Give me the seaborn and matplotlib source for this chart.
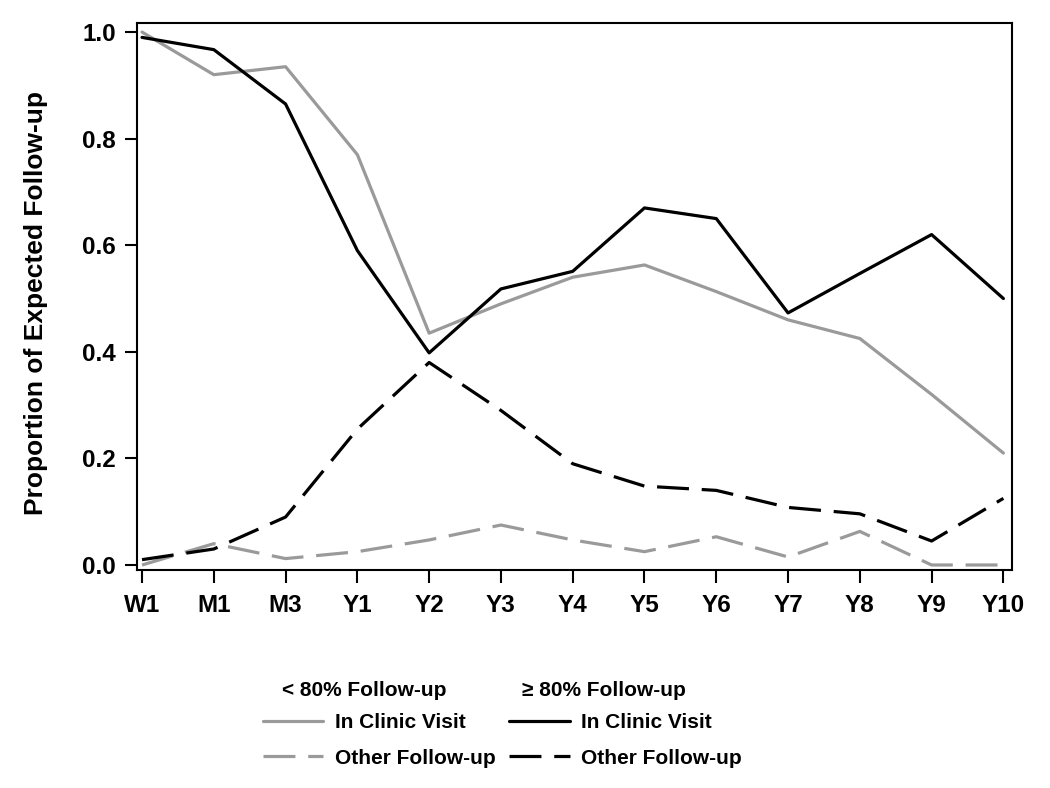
import numpy as np
import pandas as pd
import matplotlib
matplotlib.use("Agg")
import matplotlib.pyplot as plt
import seaborn as sns
from matplotlib.lines import Line2D

timepoints = ["W1", "M1", "M3", "Y1", "Y2", "Y3", "Y4", "Y5", "Y6", "Y7", "Y8", "Y9", "Y10"]
yticks = [0.0, 0.2, 0.4, 0.6, 0.8, 1.0]

low_clinic = [1.00, 0.92, 0.935, 0.77, 0.435, 0.49, 0.54, 0.563, 0.513, 0.46, 0.425, 0.32, 0.21]
low_other = [0.00, 0.04, 0.012, 0.025, 0.047, 0.075, 0.047, 0.025, 0.053, 0.015, 0.063, 0.0, 0.0]
high_clinic = [0.99, 0.967, 0.865, 0.59, 0.398, 0.518, 0.551, 0.67, 0.65, 0.473, 0.547, 0.62, 0.50]
high_other = [0.01, 0.03, 0.09, 0.255, 0.38, 0.29, 0.19, 0.148, 0.14, 0.108, 0.096, 0.045, 0.125]

groups = ["< 80% Follow-up", "\u2265 80% Follow-up"]
types = ["In Clinic Visit", "Other Follow-up"]

rows = []
for g, t, vals in [(groups[0], types[0], low_clinic), (groups[0], types[1], low_other),
                   (groups[1], types[0], high_clinic), (groups[1], types[1], high_other)]:
    for i, v in enumerate(vals):
        rows.append({"idx": i, "value": v, "group": g, "type": t})
df = pd.DataFrame(rows)

sns.set_theme(style="white")
plt.rcParams['font.family'] = ['Liberation Sans', 'DejaVu Sans']
plt.rcParams['font.weight'] = 'bold'
plt.rcParams['text.color'] = 'black'
plt.rcParams['axes.labelcolor'] = 'black'
plt.rcParams['xtick.color'] = 'black'
plt.rcParams['ytick.color'] = 'black'

GRAY = "#9a9a9a"
BLACK = "#000000"
DASH = (10, 4)
palette = {groups[0]: GRAY, groups[1]: BLACK}
dashes = {types[0]: "", types[1]: DASH}

fig = plt.figure(figsize=(10.5, 7.88), dpi=100)
ax = fig.add_axes([137/1050, 1 - 570/788, (1012-137)/1050, (570-23)/788])

sns.lineplot(data=df, x="idx", y="value", hue="group", style="type",
             palette=palette, dashes=dashes, linewidth=2.3, ax=ax, legend=False,
             hue_order=groups, style_order=types)

ax.set_xlim(-0.07, 12.12)
ax.set_ylim(-0.0094, 1.017)
ax.set_xticks(range(len(timepoints)))
ax.set_xticklabels(timepoints, fontsize=17.5, fontweight='bold', color='black')
ax.set_yticks(yticks)
ax.set_yticklabels([f"{t:.1f}" for t in yticks], fontsize=17.5, fontweight='bold', color='black')
ax.tick_params(axis='both', direction='out', length=9, width=1.5, color='black',
               bottom=True, left=True, pad=6)
ax.tick_params(axis='x', pad=8)
for s in ax.spines.values():
    s.set_color('black')
    s.set_linewidth(1.5)
ax.set_xlabel("")
ax.set_ylabel("Proportion of Expected Follow-up", fontsize=19, fontweight='bold', color='black')
ax.yaxis.set_label_coords((48 - 137) / 875, (570 - 303) / 547)

# Legend
handles = [
    Line2D([], [], color=GRAY, lw=2.3),
    Line2D([], [], color=GRAY, lw=2.3, dashes=DASH),
    Line2D([], [], color=BLACK, lw=2.3),
    Line2D([], [], color=BLACK, lw=2.3, dashes=DASH),
]
labels = [types[0], types[1], types[0], types[1]]
leg = fig.legend(handles, labels, ncol=2, frameon=False,
                 loc='upper left', bbox_to_anchor=(263/1050, 1 - 713/788),
                 prop={'size': 15, 'weight': 'bold'},
                 handlelength=2.9, handletextpad=0.55, columnspacing=0.65,
                 labelspacing=0.8, borderaxespad=0, borderpad=0)
fig.text(282/1050, 1 - 690/788, groups[0], fontsize=15, fontweight='bold', va='center', ha='left')
fig.text(522/1050, 1 - 690/788, groups[1], fontsize=15, fontweight='bold', va='center', ha='left')

fig.savefig("out.png", dpi=100, facecolor='white')
